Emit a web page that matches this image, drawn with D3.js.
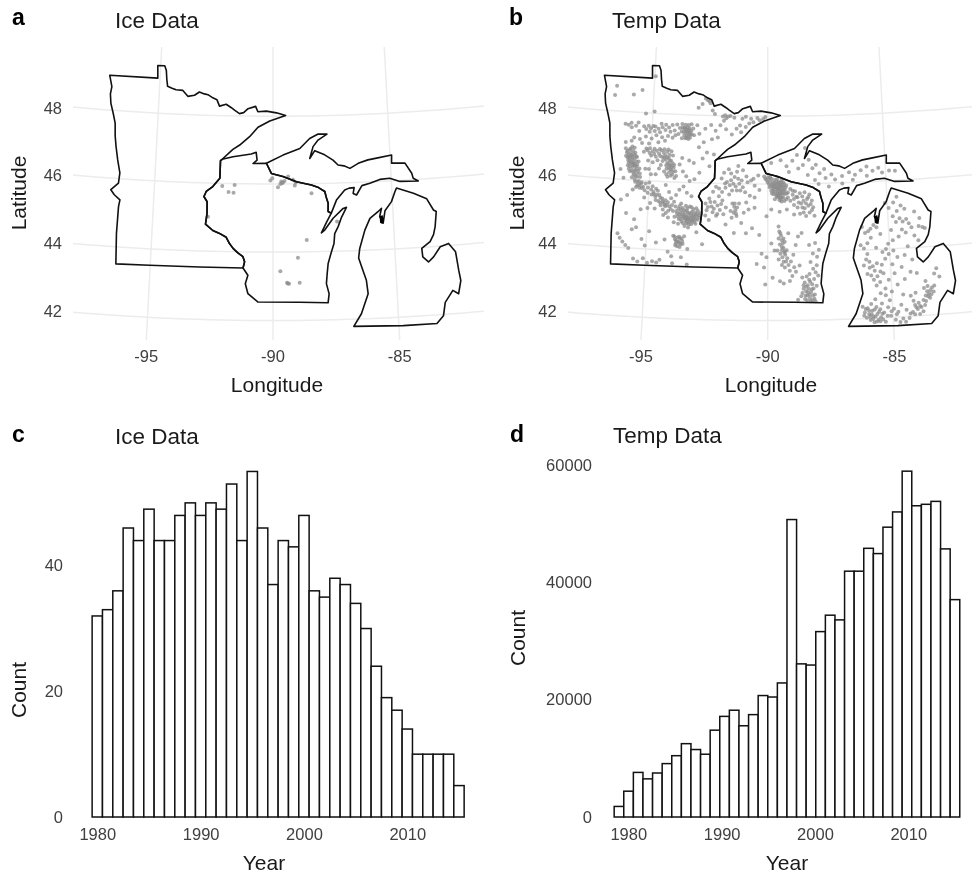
<!DOCTYPE html>
<html>
<head>
<meta charset="utf-8">
<script src="https://cdnjs.cloudflare.com/ajax/libs/d3/7.8.5/d3.min.js"></script>
<style>
  html, body { margin: 0; padding: 0; background: #fff; }
  svg { display: block; font-family: "Liberation Sans", Arial, sans-serif; filter: blur(0.35px); }
  .tick text { fill: #404040; font-size: 16.5px; }
</style>
</head>
<body>
<div id="chart"></div>
<script>
// state outlines, lon/lat
var borderRiver = [[-92.17,46.71],[-92.24,46.67],[-92.25,46.15],[-92.54,45.90],[-92.81,45.75],[-92.90,45.60],[-92.76,45.45],[-92.75,45.11],[-92.80,44.79],[-92.49,44.61],[-92.21,44.53],[-91.93,44.42],[-91.79,44.24],[-91.64,44.10],[-91.44,43.97],[-91.23,43.86],[-91.16,43.71],[-91.22,43.53]];
var minnesotaNorth = [[-97.23,49.03],[-95.10,49.04],[-95.13,49.41],[-94.82,49.42],[-94.74,49.28],[-94.70,49.02],[-94.65,48.81],[-94.45,48.76],[-94.27,48.72],[-93.97,48.71],[-93.74,48.54],[-93.45,48.58],[-93.24,48.68],[-93.02,48.63],[-92.86,48.61],[-92.64,48.52],[-92.46,48.47],[-92.34,48.28],[-92.05,48.34],[-91.82,48.24],[-91.68,48.17],[-91.46,48.07],[-91.28,48.10],[-91.09,48.22],[-90.76,48.29],[-90.66,48.13],[-90.29,48.15],[-89.85,48.10],[-89.45,48.02],[-90.14,47.86],[-90.65,47.67],[-91.01,47.39],[-91.43,47.14],[-91.72,47.01]];
var minnesotaWest = [[-92.99,43.53],[-95.03,43.52],[-96.40,43.50],[-96.46,44.39],[-96.45,45.18],[-96.41,45.38],[-96.66,45.52],[-96.82,45.66],[-96.52,45.87],[-96.49,46.17],[-96.62,46.55],[-96.73,46.94],[-96.80,47.25],[-96.84,47.63],[-96.95,47.90],[-97.09,48.21],[-97.14,48.48],[-97.10,48.70]];
var wisconsinEast = [[-91.71,46.79],[-90.93,46.88],[-90.72,46.93],[-90.68,46.70],[-90.85,46.60],[-90.28,46.61],[-90.07,46.31],[-89.58,46.22],[-89.01,46.06],[-88.38,45.96],[-88.08,45.88],[-87.82,45.76],[-87.76,45.58],[-87.69,45.41],[-87.70,45.17],[-87.57,45.12],[-87.78,44.85],[-88.00,44.55],[-87.86,44.63],[-87.50,44.97],[-87.07,45.25],[-86.93,45.28],[-87.15,44.99],[-87.30,44.72],[-87.45,44.52],[-87.49,44.23],[-87.62,43.95],[-87.75,43.65],[-87.80,43.35],[-87.84,43.06],[-87.74,42.76],[-87.79,42.50],[-88.93,42.53],[-90.60,42.54],[-91.01,42.78],[-91.12,43.07],[-91.02,43.32]];
var upperMichigan = [[-90.28,46.61],[-89.57,46.85],[-88.85,47.04],[-88.42,47.33],[-88.05,47.46],[-87.67,47.45],[-88.06,47.28],[-88.28,47.09],[-88.43,46.74],[-88.21,46.97],[-87.79,46.84],[-87.44,46.68],[-87.23,46.53],[-86.98,46.50],[-86.73,46.42],[-86.37,46.56],[-85.95,46.65],[-85.58,46.69],[-84.93,46.76],[-84.95,46.52],[-84.38,46.50],[-84.12,46.19],[-84.07,46.04],[-83.86,45.95],[-84.64,45.97],[-85.06,46.08],[-85.48,46.06],[-85.91,45.96],[-86.25,45.90],[-86.49,45.63],[-86.63,45.68],[-86.58,45.85],[-86.79,45.84],[-86.98,45.79],[-87.34,45.50],[-87.57,45.12],[-87.70,45.17],[-87.69,45.41],[-87.76,45.58],[-87.82,45.76],[-88.08,45.88],[-88.38,45.96],[-89.01,46.06],[-89.58,46.22],[-90.07,46.31]];
var lowerMichigan = [[-84.80,45.78],[-84.10,45.60],[-83.56,45.41],[-83.31,45.07],[-83.20,45.02],[-83.29,44.58],[-83.38,44.35],[-83.54,44.15],[-83.90,43.97],[-83.88,43.72],[-83.66,43.56],[-83.44,43.70],[-83.14,43.98],[-82.79,44.06],[-82.53,43.80],[-82.46,43.25],[-82.41,42.95],[-82.54,42.57],[-82.76,42.68],[-83.10,42.35],[-83.21,41.96],[-83.49,41.75],[-84.83,41.75],[-86.79,41.79],[-86.47,42.15],[-86.17,42.73],[-86.22,43.12],[-86.39,43.52],[-86.50,43.78],[-86.44,44.06],[-86.20,44.59],[-85.97,44.93],[-85.61,45.12],[-85.47,45.21],[-85.56,44.97],[-85.43,44.77],[-85.33,45.13],[-85.04,45.39],[-84.87,45.68]];
var traverseLake = [[-85.56,44.97],[-85.44,45.01],[-85.39,44.86],[-85.46,44.75],[-85.56,44.79]];

// panel a: sites with ice records
var iceSites = [[-92.14,45.92],[-91.62,45.96],[-91.87,45.75],[-91.66,45.73],[-92.71,45.01],[-90.11,46.10],[-90.03,46.17],[-89.65,46.07],[-89.58,46.04],[-89.51,46.09],[-89.69,46.00],[-89.62,46.02],[-89.79,45.90],[-89.36,46.22],[-89.15,46.12],[-89.04,46.04],[-89.08,45.95],[-88.38,45.72],[-87.34,44.87],[-88.61,44.35],[-88.98,43.83],[-89.70,43.44],[-89.43,43.10],[-89.40,43.08],[-89.35,43.07],[-88.92,43.10]];

// panel b: sites with temperature records, grouped by area
var tempMinnesota = [
[-96.64,48.75],[-96.70,48.47],[-95.88,48.52],[-95.51,48.67],[-94.96,49.10],[-94.93,48.05],[-95.30,47.98],
[-92.71,48.50],[-92.62,48.45],[-92.55,48.42],[-92.50,48.36],[-92.85,48.33],[-93.02,48.22],[-92.40,48.15],[-92.30,48.05],[-91.95,47.98],[-91.85,48.02],[-91.80,47.93],[-91.72,47.98],[-91.90,47.85],[-91.62,48.00],[-91.45,47.95],[-91.10,47.92],[-90.95,47.98],[-90.72,47.92],[-90.45,47.95],[-90.35,47.88],[-90.20,47.92],[-90.10,47.98],[-90.62,47.82],[-90.80,47.78],[-90.95,47.68],[-91.20,47.72],[-91.35,47.62],[-91.15,47.52],[-91.55,47.45],[-91.80,47.60],[-92.05,47.72],[-92.25,47.55],[-92.45,47.72],[-92.70,47.60],[-92.15,47.35],[-92.40,47.30],[-92.75,47.20],[-92.60,46.90],[-92.95,47.05],[-92.30,46.85],[-92.78,46.72],[-92.48,46.50],
[-96.16,47.64],[-96.02,47.62],[-95.88,47.55],[-95.70,47.60],[-95.55,47.45],[-95.35,47.60],[-95.15,47.62],[-95.05,47.55],[-94.95,47.62],[-94.86,47.61],[-94.72,47.55],[-94.65,47.45],[-94.55,47.60],[-94.42,47.52],[-94.27,47.60],[-94.12,47.68],[-94.02,47.52],[-93.92,47.70],[-93.70,47.72],[-93.62,47.58],[-93.55,47.70],[-93.48,47.62],[-93.40,47.55],[-93.55,47.50],[-93.45,47.45],[-93.35,47.42],[-93.60,47.38],[-93.50,47.32],[-93.42,47.28],[-93.30,47.52],[-93.22,47.60],[-93.18,47.40],[-93.70,47.30],[-93.85,47.42],[-94.10,47.30],[-94.30,47.35],[-94.55,47.30],[-94.80,47.35],[-95.00,47.25],[-95.25,47.30],[-95.50,47.22],[-95.75,47.25],[-96.10,47.10],[-92.95,47.45],[-93.05,47.70],
[-96.00,46.85],[-95.90,46.90],[-95.85,46.80],[-95.95,46.75],[-96.05,46.70],[-95.80,46.72],[-95.75,46.85],[-95.70,46.75],[-95.88,46.65],[-95.78,46.60],[-95.68,46.62],[-95.95,46.58],[-95.72,46.50],[-95.60,46.55],[-95.82,46.48],[-95.65,46.42],[-95.55,46.45],[-95.75,46.38],[-95.60,46.32],[-95.90,46.32],[-95.45,46.35],[-95.50,46.55],[-95.62,46.70],[-95.92,46.50],[-95.85,46.25],[-95.70,46.22],[-95.55,46.20],[-95.60,46.12],[-95.40,46.10],[-95.75,46.08],[-95.45,45.98],[-95.60,45.95],[-95.35,45.90],[-95.50,45.85],[-95.25,45.82],[-95.40,45.78],[-95.15,45.92],[-95.68,45.72],[-95.90,45.55],[-96.15,45.40],[-96.10,46.05],[-96.25,46.30],
[-96.08,46.92],[-96.02,46.80],[-95.98,46.66],[-95.86,46.92],[-95.80,46.98],[-95.70,46.95],[-95.92,46.68],[-95.83,46.72],[-95.76,46.67],[-95.66,46.80],[-95.58,46.68],[-95.88,46.56],[-95.78,46.52],[-95.68,46.48],[-95.86,46.40],[-95.72,46.44],[-95.58,46.40],[-95.50,46.28],[-95.78,46.28],[-95.65,46.27],[-95.95,46.42],[-95.42,46.20],[-95.68,46.15],[-95.52,46.10],[-95.62,46.02],[-95.50,45.95],[-95.42,45.86],[-95.32,45.95],[-95.30,45.78],[-95.18,45.72],[-95.55,45.80],[-95.05,45.80],
[-95.30,46.85],[-95.15,46.90],[-95.05,46.82],[-94.92,46.88],[-94.85,46.80],[-94.75,46.90],[-94.65,46.82],[-94.55,46.92],[-94.45,46.85],[-94.38,46.78],[-94.30,46.88],[-94.20,46.80],[-94.50,46.72],[-94.35,46.65],[-94.22,46.70],[-94.12,46.62],[-94.28,46.55],[-94.15,46.48],[-94.05,46.55],[-94.22,46.42],[-94.10,46.35],[-94.00,46.42],[-94.18,46.28],[-93.92,46.32],[-94.05,46.22],[-94.25,46.15],[-93.88,46.18],[-94.40,46.30],[-94.55,46.48],[-94.70,46.62],[-93.75,46.52],[-93.60,46.32],[-93.45,46.18],[-93.30,46.05],[-93.10,46.10],[-92.90,46.30],[-93.65,46.72],[-93.35,46.65],[-93.15,46.58],
[-95.20,46.95],[-95.05,46.96],[-94.85,46.95],[-94.98,46.75],[-94.78,46.72],[-94.62,46.95],[-94.60,46.75],[-94.42,46.95],[-94.25,46.95],[-94.12,46.90],[-94.05,46.78],[-94.42,46.70],[-94.30,46.72],[-94.18,46.62],[-94.32,46.48],[-94.20,46.52],[-94.08,46.45],[-93.98,46.50],[-94.30,46.38],[-94.15,46.38],[-94.02,46.30],[-94.12,46.18],[-94.30,46.22],[-93.95,46.12],[-94.48,46.60],[-94.62,46.38],[-94.75,46.20],[-94.90,46.55],[-95.10,46.60],[-95.20,46.35],[-95.05,46.35],
[-93.68,47.62],[-93.58,47.62],[-93.52,47.56],[-93.42,47.70],[-93.38,47.60],[-93.47,47.52],[-93.38,47.48],[-93.50,47.40],[-93.42,47.36],[-93.55,47.30],[-93.35,47.32],[-93.28,47.42],[-93.62,47.48],[-93.72,47.50],[-93.80,47.60],[-93.30,47.72],
[-95.90,47.68],[-95.60,47.70],[-95.25,47.52],[-95.10,47.45],[-94.88,47.48],[-94.60,47.70],[-94.40,47.68],[-94.20,47.48],[-93.98,47.38],[-94.42,47.20],[-94.70,47.15],[-95.10,47.10],[-95.40,47.10],[-95.85,47.15],
[-94.95,46.20],[-95.00,45.95],[-94.85,45.85],[-94.70,45.78],[-94.80,45.68],[-94.62,45.72],[-94.55,45.60],[-94.72,45.55],[-94.42,45.50],[-94.58,45.42],[-94.35,45.38],[-94.48,45.30],[-94.28,45.28],[-94.18,45.40],[-94.38,45.18],[-94.72,45.20],[-94.92,45.35],[-95.18,45.50],[-94.05,45.52],[-93.85,45.62],[-93.72,45.78],[-93.55,45.88],[-94.15,45.70],[-94.30,45.90],[-93.40,45.70],[-93.20,45.60],
[-94.90,45.75],[-94.78,45.62],[-94.65,45.60],[-94.70,45.45],[-94.50,45.52],[-94.40,45.42],[-94.50,45.38],[-94.28,45.45],[-94.22,45.32],[-94.12,45.28],[-94.32,45.32],[-94.05,45.20],[-94.15,45.15],[-94.25,45.08],[-94.00,45.32],[-93.92,45.42],[-94.88,45.60],[-95.05,45.65],[-95.02,45.20],[-95.30,45.15],
[-93.95,45.15],[-93.85,45.28],[-93.72,45.22],[-93.78,45.08],[-93.88,44.98],[-93.65,45.12],[-93.60,45.00],[-93.70,44.92],[-93.55,45.25],[-93.52,45.12],[-93.45,45.05],[-93.50,44.95],[-93.58,44.85],[-93.42,44.88],[-93.40,45.00],[-93.35,45.12],[-93.30,45.02],[-93.32,44.92],[-93.38,44.80],[-93.25,44.85],[-93.22,44.98],[-93.20,45.10],[-93.15,45.02],[-93.12,44.90],[-93.18,44.78],[-93.05,44.85],[-93.05,45.00],[-93.02,45.12],[-92.98,45.25],[-92.95,45.02],[-92.92,44.92],[-92.85,45.12],[-92.85,44.98],[-93.10,45.22],[-93.25,45.30],[-93.42,45.32],[-93.62,45.38],[-93.45,44.72],[-93.30,44.68],[-93.72,44.78],[-93.90,44.82],[-94.15,44.95],[-94.35,45.02],
[-93.80,45.15],[-93.75,45.00],[-93.68,45.05],[-93.62,45.20],[-93.48,45.18],[-93.55,45.05],[-93.48,45.00],[-93.38,45.18],[-93.35,44.95],[-93.28,45.10],[-93.26,44.92],[-93.18,44.92],[-93.15,45.15],[-93.10,45.05],[-93.08,44.95],[-93.00,44.92],[-92.98,45.08],[-92.92,45.18],[-92.88,45.05],[-93.42,44.95],[-93.62,44.92],[-93.52,44.80],[-93.35,44.85],[-93.15,44.85],[-93.00,44.80],[-93.28,44.78],[-93.68,45.30],[-93.35,45.25],[-93.18,45.28],
[-93.90,44.42],[-93.82,44.32],[-93.72,44.38],[-93.78,44.20],[-93.68,44.25],[-93.62,44.35],[-93.58,44.18],[-93.52,44.28],[-93.72,44.12],[-93.45,44.42],[-94.60,44.20],[-94.25,44.30],[-94.10,43.95],[-93.95,43.82],[-93.55,43.80],[-93.30,44.05],[-92.70,44.20],[-92.95,44.55],
[-93.85,44.40],[-93.78,44.28],[-93.65,44.40],[-93.62,44.22],[-93.72,44.25],[-93.55,44.35],[-93.50,44.20],[-93.80,44.15],[-93.62,44.10],
[-96.20,44.41],[-96.10,44.28],[-95.98,44.18],[-95.85,44.08],[-95.72,44.00],[-95.62,44.55],[-95.45,44.62],[-95.20,44.28],[-95.05,44.10],[-94.90,44.52],[-95.50,43.70],[-95.32,43.62],[-95.10,43.72],[-94.92,43.60],[-94.72,43.65],[-94.55,43.62],[-94.42,43.70],[-93.90,43.62],[-93.30,43.60],[-95.90,45.02],[-95.55,44.85]
];
var tempWisconsin = [
[-92.18,45.90],[-92.30,45.75],[-92.45,45.55],[-92.60,45.40],[-92.50,45.30],[-92.35,45.32],[-92.22,45.45],[-92.05,45.62],[-91.92,45.75],[-91.78,45.88],[-92.05,45.85],[-92.30,45.15],[-92.15,45.05],[-92.00,45.22],[-91.85,45.10],[-92.60,45.05],[-92.45,44.92],[-91.72,46.05],[-91.55,46.10],[-91.40,46.20],[-91.25,46.15],[-91.45,46.00],[-91.20,46.00],[-91.05,45.90],[-91.30,45.80],[-90.95,45.75],[-91.62,45.68],[-91.85,46.32],[-91.65,46.42],[-91.25,46.52],[-91.05,46.40],[-90.90,46.22],[-90.70,46.10],[-90.55,45.95],[-90.40,46.25],[-90.35,45.82],[-90.75,45.65],[-91.48,45.42],[-91.40,45.32],[-91.35,45.22],[-91.28,45.30],[-91.20,45.42],[-91.42,45.15],[-91.30,45.05],[-91.00,45.15],[-90.80,45.25],[-90.55,45.30],[-91.10,44.85],[-91.75,44.80],[-91.40,44.55],[-90.90,44.55],[-90.65,44.70],[-90.35,44.50],
[-91.95,46.15],[-91.80,46.00],[-91.60,45.95],[-91.50,45.80],[-91.35,45.92],[-91.15,45.80],[-91.10,46.10],[-91.55,46.30],[-91.30,46.35],[-90.85,46.05],[-90.60,46.15],[-91.90,45.50],[-92.10,45.35],[-92.40,45.45],[-92.55,45.20],[-92.25,45.25],[-92.10,45.10],[-91.95,45.40],[-91.75,45.30],[-91.55,45.20],[-91.38,45.42],[-91.32,45.12],[-91.50,45.00],[-90.90,45.45],[-90.55,45.60],
[-90.15,46.22],[-90.05,46.12],[-89.98,46.20],[-89.92,46.10],[-89.95,46.00],[-89.85,46.15],[-89.80,46.05],[-89.88,45.95],[-89.75,45.95],[-89.72,46.12],[-89.68,46.02],[-89.65,45.90],[-89.78,45.85],[-89.62,46.08],[-89.58,45.98],[-89.55,45.88],[-89.68,45.78],[-89.60,45.72],[-89.50,46.02],[-89.48,45.92],[-89.45,45.80],[-89.52,45.70],[-89.62,45.62],[-89.42,46.10],[-89.40,45.98],[-89.38,45.88],[-89.40,45.72],[-89.55,45.60],[-89.50,45.52],[-89.35,45.60],[-89.32,45.80],[-89.30,46.00],[-89.25,45.90],[-89.28,45.70],[-89.42,45.48],[-89.75,45.70],[-89.70,45.55],[-89.85,45.80],[-89.22,45.55],[-89.58,45.82],[-89.72,45.88],[-89.46,45.65],
[-90.10,46.15],[-90.00,46.05],[-89.90,46.20],[-89.82,46.00],[-89.92,45.90],[-89.78,45.92],[-89.72,46.00],[-89.60,46.15],[-89.65,45.95],[-89.55,46.05],[-89.52,45.95],[-89.60,45.85],[-89.50,45.85],[-89.45,45.95],[-89.45,46.05],[-89.35,45.92],[-89.35,46.05],[-89.55,45.75],[-89.48,45.72],[-89.42,45.80],[-89.35,45.72],[-89.58,45.65],[-89.48,45.60],[-89.40,45.60],[-89.28,45.82],[-89.22,45.95],[-89.20,45.72],[-89.65,45.68],[-89.75,45.78],[-89.82,45.72],[-89.45,45.55],[-89.30,45.50],[-89.15,45.60],
[-89.15,45.75],[-89.05,45.85],[-88.95,45.68],[-88.85,45.78],[-88.75,45.60],[-88.65,45.72],[-88.55,45.62],[-88.45,45.75],[-88.35,45.55],[-88.25,45.68],[-88.15,45.50],[-89.05,45.50],[-88.90,45.38],[-88.75,45.30],[-88.60,45.42],[-88.45,45.28],[-88.30,45.35],[-88.15,45.22],[-88.05,45.05],[-88.40,45.05],[-88.65,45.12],[-88.90,45.10],[-89.20,45.25],[-89.50,45.18],[-89.85,45.25],[-90.05,45.05],
[-88.95,45.80],[-88.80,45.62],[-88.70,45.45],[-88.55,45.30],[-88.40,45.42],[-88.30,45.60],[-88.20,45.40],[-88.50,45.50],[-88.90,45.55],[-88.10,45.30],[-88.25,45.15],[-88.50,45.15],
[-90.25,43.95],[-90.05,43.85],[-90.45,43.65],[-90.15,43.55],[-89.85,44.25],[-89.72,44.05],[-89.55,44.75],[-89.52,44.60],[-89.45,44.48],[-89.42,44.35],[-89.38,44.25],[-89.50,44.22],[-89.35,44.12],[-89.30,44.02],[-89.42,44.05],[-89.28,43.92],[-89.40,43.85],[-89.55,43.78],[-89.35,43.72],[-89.20,43.82],[-89.30,43.55],[-89.15,43.62],[-89.05,43.72],[-88.95,43.92],[-88.85,44.20],[-88.75,44.45],[-88.60,44.55],[-89.15,44.55],[-89.80,43.25],[-90.10,43.05],[-89.50,43.15],[-89.35,43.08],[-89.10,43.15],[-89.00,43.30],[-88.85,43.42],[-88.70,43.60],[-88.30,44.20],[-88.15,43.95],[-88.05,44.25],
[-89.48,44.55],[-89.35,44.40],[-89.42,44.15],[-89.30,44.30],[-89.32,43.98],[-89.48,43.95],[-89.22,44.05],[-89.25,43.72],[-89.42,43.62],[-89.55,44.40],[-89.60,44.05],[-89.10,43.45],[-88.92,43.55],
[-88.60,43.25],[-88.50,43.10],[-88.42,43.28],[-88.38,43.02],[-88.55,42.92],[-88.45,42.85],[-88.35,42.92],[-88.28,43.12],[-88.25,42.82],[-88.40,42.72],[-88.30,42.65],[-88.18,42.72],[-88.50,42.62],[-88.20,42.58],[-88.08,42.55],[-88.15,42.92],[-88.12,43.20],[-88.05,43.40],[-88.00,43.60],[-88.02,43.00],[-87.98,43.85],[-88.10,42.75],[-88.65,42.70],[-88.78,42.60],
[-88.55,43.02],[-88.45,42.98],[-88.38,42.82],[-88.48,42.72],[-88.32,42.75],[-88.22,42.90],[-88.20,43.05],[-88.32,43.18],[-88.42,42.58],[-88.28,42.55],[-88.12,42.62],[-88.60,42.80],[-88.30,43.35],[-88.15,43.50],[-88.25,43.70],[-87.95,43.30],[-87.90,44.05]
];
var tempUpper = [
[-89.85,46.62],[-89.45,46.70],[-89.20,46.52],[-88.95,46.68],[-88.70,46.45],[-88.50,46.55],[-88.75,46.85],[-89.10,46.35],[-88.30,46.25],[-88.10,46.45],[-88.25,46.70],[-87.95,46.55],[-87.80,46.30],[-87.60,46.42],[-87.55,46.15],[-87.30,46.25],[-88.00,46.10],[-87.85,45.98],[-87.42,45.90],[-87.15,46.10],[-86.85,46.20],[-86.55,46.30],[-86.30,46.22],[-86.05,46.35],[-85.80,46.45],[-85.55,46.32],[-85.30,46.40],[-85.15,46.25],[-86.40,46.08],[-86.85,45.98],[-84.85,46.30],[-84.60,46.28],[-85.80,46.18],[-88.40,47.05]
];
var tempLower = [
[-86.10,44.68],[-85.85,44.55],[-85.98,44.50],[-85.75,44.62],[-85.62,44.72],[-85.50,44.65],[-85.35,44.45],[-85.10,45.35],[-84.95,45.20],[-84.75,45.35],[-84.60,45.52],[-84.45,45.25],[-84.30,45.15],[-84.62,45.10],[-84.80,44.95],[-84.68,44.78],[-84.52,44.88],[-84.40,44.78],[-84.25,44.85],[-84.15,44.72],[-84.05,44.60],[-83.75,44.62],[-83.60,44.58],[-83.50,44.55],[-83.70,44.85],[-83.90,45.05],[-84.30,44.45],[-84.60,44.35],[-84.85,44.25],[-85.05,44.15],
[-86.18,44.15],[-86.05,44.05],[-85.92,43.88],[-85.98,43.72],[-85.85,43.65],[-85.72,43.52],[-85.85,43.48],[-85.65,43.38],[-85.80,43.25],[-85.55,43.22],[-85.70,43.12],[-85.45,43.05],[-85.60,42.95],[-85.35,43.55],[-85.20,43.72],[-85.05,43.85],[-85.30,43.92],[-85.15,44.00],[-84.92,43.55],[-84.70,43.75],[-84.55,43.45],[-84.85,43.28],[-84.40,43.80],[-84.25,44.05],[-85.30,43.30],[-85.10,43.10],[-84.75,42.95],[-84.45,43.10],[-84.20,43.30],[-83.95,43.25],[-83.25,43.20],[-83.15,43.35],[-83.05,43.10],
[-85.75,44.35],[-85.90,44.20],[-85.55,44.05],[-84.90,44.55],[-84.45,44.55],[-83.95,44.35],[-83.80,44.20],[-84.10,43.65],[-84.85,43.95],[-85.55,43.60],[-85.42,43.35],[-85.95,43.30],[-86.08,43.55],[-85.25,42.85],[-85.00,42.75],[-85.45,42.72],[-84.55,42.65],
[-86.20,42.35],[-86.12,42.18],[-86.05,42.02],[-86.00,42.30],[-85.95,42.12],[-85.90,41.95],[-85.85,42.42],[-85.82,42.22],[-85.78,42.05],[-85.75,41.88],[-85.68,42.55],[-85.65,42.32],[-85.62,42.12],[-85.58,41.95],[-85.50,42.25],[-85.48,42.02],[-85.42,42.42],[-85.35,42.15],[-85.30,41.88],[-85.25,42.65],[-85.18,42.30],[-85.10,42.50],[-85.08,42.05],[-84.95,42.25],[-84.90,41.92],[-84.78,42.15],[-84.65,42.35],[-84.60,41.95],[-84.45,42.20],[-84.35,41.95],[-84.20,42.12],[-84.10,42.32],[-84.00,42.20],[-84.15,42.45],[-83.95,42.38],[-83.85,42.25],[-83.78,42.12],[-83.92,42.05],[-84.25,42.60],[-84.05,42.68],
[-86.15,42.08],[-86.08,42.28],[-85.95,42.22],[-85.92,42.05],[-85.85,42.12],[-85.80,41.98],[-85.72,42.25],[-85.70,42.05],[-85.65,41.90],[-85.55,42.18],[-85.52,41.90],[-85.42,42.12],[-85.40,41.95],[-85.22,42.05],[-85.05,42.18],[-84.85,42.08],[-84.72,41.85],[-84.50,41.85],[-84.30,42.08],[-84.12,42.05],[-84.05,42.25],[-83.90,42.28],[-83.70,42.30],[-83.65,42.42],[-83.55,42.55],
[-83.75,42.45],[-83.65,42.58],[-83.58,42.70],[-83.52,42.62],[-83.45,42.72],[-83.42,42.60],[-83.38,42.80],[-83.32,42.68],[-83.28,42.85],[-83.55,42.85],[-83.62,43.00],[-83.48,42.50],[-83.70,42.80]
];

var iceCounts = [32,33,36,46,44,49,44,44,48,50,48,50,49,53,44,55,46,37,44,43,48,36,35,38,37,34,30,24,19,17,14,10,10,10,10,5];
var iceFirstYear = 1980;
var tempCounts = [1800,4400,7600,6500,7500,9100,10450,12500,11500,10700,14800,17150,18200,15550,17450,20700,20450,22850,50700,26100,25900,31600,34400,33600,41900,41900,45800,44900,49400,52000,58950,53050,53300,53800,45700,37050];
var tempFirstYear = 1979;
var tempBinWidth = 36 / 35; // 1979-2015 squeezed into 36 bins

var yearTicks = [1980, 1990, 2000, 2010];
var iceCountTicks = [0, 20, 40];
var tempCountTicks = [0, 20000, 40000, 60000];
var latTicks = [42, 44, 46, 48];
var lonTicks = [-95, -90, -85];

// outlines put together from the shared border
var minnesota = minnesotaNorth.concat(borderRiver, minnesotaWest);
var wisconsin = wisconsinEast.concat(borderRiver.slice().reverse());

var svg = d3.select("#chart").append("svg")
    .attr("width", 972)
    .attr("height", 873);

function addText(x, y, txt, size, opts)
{
  opts = opts || {};
  var t = svg.append("text")
      .attr("x", x)
      .attr("y", y)
      .attr("font-size", size)
      .attr("fill", opts.fill || "#1a1a1a")
      .attr("font-weight", opts.bold ? "bold" : null)
      .attr("text-anchor", opts.anchor || "start")
      .text(txt);
  if (opts.rotate) t.attr("transform", "rotate(-90," + x + "," + y + ")");
  return t;
}

function drawMap(left, clipLeft, id, points)
{
  var top = 47, bottom = 340, clipRight = left + 484;

  var projection = d3.geoConicEqualArea()
      .parallels([29.5, 45.5])
      .rotate([90, 0])
      .center([0, 45])
      .scale(1950)
      .translate([left + 273, 218]);

  var path = d3.geoPath(projection);
  var line = d3.line()
      .x(function(d) { return projection(d)[0]; })
      .y(function(d) { return projection(d)[1]; })
      .curve(d3.curveLinearClosed);

  svg.append("clipPath").attr("id", id)
    .append("rect")
      .attr("x", left + clipLeft)
      .attr("y", top)
      .attr("width", clipRight - left - clipLeft)
      .attr("height", bottom - top);

  var grid = svg.append("g").attr("clip-path", "url(#" + id + ")");

  latTicks.forEach(function(lat) {
    grid.append("path")
        .datum({type: "LineString", coordinates: d3.range(-102, -77.5, 0.5).map(function(lon) { return [lon, lat]; })})
        .attr("d", path)
        .attr("fill", "none")
        .attr("stroke", "#ececec")
        .attr("stroke-width", 1.5);
    addText(left + 62, projection([-98.35, lat])[1] + 6, lat, 16.5, {anchor: "end", fill: "#404040"});
  });

  lonTicks.forEach(function(lon) {
    grid.append("path")
        .datum({type: "LineString", coordinates: d3.range(38, 53, 0.5).map(function(lat) { return [lon, lat]; })})
        .attr("d", path)
        .attr("fill", "none")
        .attr("stroke", "#ececec")
        .attr("stroke-width", 1.5);
    addText(projection([lon, 41.3])[0], 362, lon, 16.5, {anchor: "middle", fill: "#404040"});
  });

  svg.append("g").selectAll("circle")
      .data(points)
      .enter()
      .append("circle")
      .attr("cx", function(d) { return projection(d)[0]; })
      .attr("cy", function(d) { return projection(d)[1]; })
      .attr("r", 2)
      .attr("fill", "#8c8c8c")
      .attr("fill-opacity", 0.75);

  svg.append("g").selectAll("path")
      .data([minnesota, wisconsin, upperMichigan, lowerMichigan])
      .enter()
      .append("path")
      .attr("d", line)
      .attr("fill", "none")
      .attr("stroke", "#111")
      .attr("stroke-width", 1.6)
      .attr("stroke-linejoin", "round");

  svg.append("path")
      .attr("d", line(traverseLake))
      .attr("fill", "#000");
}

function drawHist(counts, firstYear, binWidth, xRange, yDomain, yRange, ticks, axisX)
{
  var xScale = d3.scaleLinear().domain([1980, 2010]).range(xRange);
  var yScale = d3.scaleLinear().domain(yDomain).range(yRange);
  var barWidth = xScale(1980 + binWidth) - xScale(1980);

  svg.selectAll(".bar" + firstYear)
      .data(counts)
      .enter()
      .append("rect")
      .attr("class", "bar" + firstYear)
      .attr("x", function(d, i) { return xScale(firstYear + i * binWidth) - barWidth / 2; })
      .attr("width", barWidth)
      .attr("y", function(d) { return yScale(d); })
      .attr("height", function(d) { return yScale(0) - yScale(d); })
      .attr("fill", "#fff")
      .attr("stroke", "#111")
      .attr("stroke-width", 1.5);

  var xAxis = d3.axisBottom(xScale).tickValues(yearTicks).tickFormat(d3.format("d")).tickSize(0).tickPadding(6);
  var yAxis = d3.axisLeft(yScale).tickValues(ticks).tickFormat(d3.format("d")).tickSize(0).tickPadding(2);

  svg.append("g").attr("transform", "translate(0,822)").call(xAxis).select(".domain").remove();
  svg.append("g").attr("transform", "translate(" + axisX + ",0)").call(yAxis).select(".domain").remove();
}

drawMap(0, 73, "clipA", iceSites);
drawMap(494.7, 73, "clipB", d3.merge([tempMinnesota, tempWisconsin, tempUpper, tempLower]));

drawHist(iceCounts, iceFirstYear, 1, [97.3, 407.3], [0, 40], [817, 565.7], iceCountTicks, 65);
drawHist(tempCounts, tempFirstYear, tempBinWidth, [628.3, 908.3], [0, 60000], [817, 465], tempCountTicks, 594);

addText(12, 25, "a", 23, {bold: true, fill: "#000"});
addText(509, 25, "b", 23, {bold: true, fill: "#000"});
addText(12, 442, "c", 23, {bold: true, fill: "#000"});
addText(510, 442, "d", 23, {bold: true, fill: "#000"});

addText(115, 28, "Ice Data", 22.5);
addText(612, 28, "Temp Data", 22.5);
addText(115, 444, "Ice Data", 22.5);
addText(613, 443, "Temp Data", 22.5);

addText(277, 392, "Longitude", 21, {anchor: "middle"});
addText(771, 392, "Longitude", 21, {anchor: "middle"});
addText(264, 870, "Year", 21, {anchor: "middle"});
addText(787, 870, "Year", 21, {anchor: "middle"});

addText(26, 193, "Latitude", 21, {anchor: "middle", rotate: true});
addText(524, 193, "Latitude", 21, {anchor: "middle", rotate: true});
addText(26, 690, "Count", 21, {anchor: "middle", rotate: true});
addText(525, 638, "Count", 21, {anchor: "middle", rotate: true});
</script>
</body>
</html>
